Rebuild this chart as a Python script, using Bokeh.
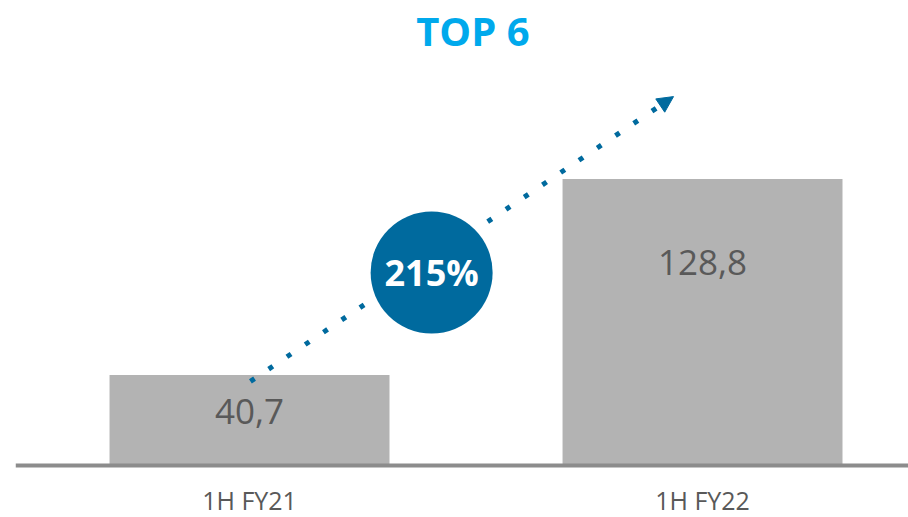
from bokeh.plotting import figure
from bokeh.models import Range1d, ColumnDataSource, Arrow, NormalHead
from bokeh.core.properties import value
from bokeh.embed import file_html
from bokeh.resources import INLINE

# ---- data ----
categories = ["1H FY21", "1H FY22"]
values = [40.7, 128.8]
value_labels = ["40,7", "128,8"]
growth_label = "215%"
title_text = "TOP 6"

# ---- styles ----
BAR = "#B3B3B3"
BASE = "#8C8C8C"
TXT = "#595959"
BLUE = "#006A9E"
TITLE_BLUE = "#00A9EC"
FONT = "Open Sans"

xs = list(range(len(categories)))

p = figure(width=908, height=517, output_backend="svg", toolbar_location=None,
           x_range=Range1d(-0.5497, 1.4547), y_range=Range1d(-23.4, 209.0),
           x_axis_type=None, y_axis_type=None, min_border=0)
p.outline_line_color = None
p.grid.visible = False
p.background_fill_color = "white"

src = ColumnDataSource(dict(x=xs, top=values, cat=categories, lab=value_labels,
                            off=[37, 84]))

p.vbar(x="x", top="top", bottom=0, width=0.618, source=src,
       fill_color=BAR, line_color=None)

# baseline
p.segment(x0=[-0.516], y0=[0], x1=[1.4547], y1=[0], line_color=BASE, line_width=4)

# value labels inside bars
p.text(x="x", y="top", text="lab", source=src, y_offset="off",
       text_align="center", text_baseline="middle",
       text_font=value(FONT), text_font_size="35px", text_color=TXT)

# category labels
p.text(x="x", y=0, text="cat", source=src, y_offset=35,
       text_align="center", text_baseline="middle",
       text_font=value(FONT), text_font_size="25px", text_color=TXT)

# dotted growth arrow
arrow = Arrow(x_start=0.002, y_start=37.8, x_end=0.936, y_end=165.8,
              line_color=BLUE, line_width=5, line_dash="5 17",
              end=NormalHead(size=16, fill_color=BLUE, line_color=BLUE, line_width=1))
p.add_layout(arrow)

# growth bubble (drawn above the arrow)
c = p.scatter(x=[0.402], y=[86.7], marker="circle", size=122,
              fill_color=BLUE, line_color=None)
c.level = "overlay"
t = p.text(x=[0.402], y=[86.7], text=[growth_label], text_align="center",
           text_baseline="middle", text_font=value(FONT), text_font_style="bold",
           text_font_size="36px", text_color="white")
t.level = "overlay"

# title
p.text(x=[0.493], y=[195.5], text=[title_text], text_align="center",
       text_baseline="middle", text_font=value(FONT), text_font_style="bold",
       text_font_size="40px", text_color=TITLE_BLUE)

open("out.html", "w").write(file_html(p, INLINE))
